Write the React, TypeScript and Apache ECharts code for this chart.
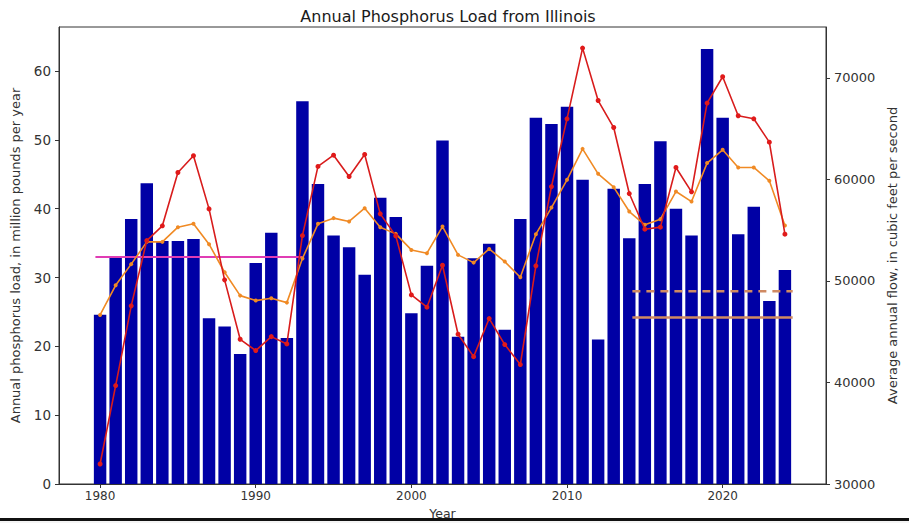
import React, { useEffect, useRef } from "react";
import * as echarts from "echarts";

const years = [
  1980, 1981, 1982, 1983, 1984, 1985, 1986, 1987, 1988, 1989,
  1990, 1991, 1992, 1993, 1994, 1995, 1996, 1997, 1998, 1999,
  2000, 2001, 2002, 2003, 2004, 2005, 2006, 2007, 2008, 2009,
  2010, 2011, 2012, 2013, 2014, 2015, 2016, 2017, 2018, 2019,
  2020, 2021, 2022, 2023, 2024,
];

// Annual phosphorus load, million pounds per year (left axis)
const loads = [
  24.6, 33.1, 38.5, 43.7, 35.3, 35.3, 35.6, 24.1, 22.9, 18.9,
  32.1, 36.5, 21.2, 55.6, 43.6, 36.1, 34.4, 30.4, 41.6, 38.8,
  24.8, 31.7, 49.9, 21.4, 32.8, 34.9, 22.4, 38.5, 53.2, 52.3,
  54.8, 44.2, 21.0, 42.9, 35.7, 43.6, 49.8, 40.0, 36.1, 63.2,
  53.2, 36.3, 40.3, 26.6, 31.1,
];

// Average annual flow, cfs (right axis) - red line
const flow = [
  31970, 39690, 47540, 53970, 55420, 60670, 62320, 57090, 50100, 44250,
  43140, 44510, 43790, 54460, 61270, 62380, 60280, 62450, 56600, 54430,
  48620, 47410, 51540, 44750, 42540, 46290, 43730, 41760, 51480, 59290,
  65960, 72920, 67760, 65100, 58600, 55090, 55290, 61170, 58770, 67510,
  70100, 66260, 65960, 63660, 54600,
];

// Smoothed flow (right axis) - orange line
const flowSmooth = [
  46650, 49570, 51650, 53840, 53840, 55290, 55620, 53610, 50850, 48550,
  48060, 48290, 47860, 52200, 55620, 56180, 55850, 57160, 55290, 54630,
  53050, 52730, 55350, 52560, 51800, 53150, 51900, 50360, 54600, 57220,
  59950, 63000, 60540, 59230, 56830, 55520, 56080, 58800, 57810, 61600,
  62910, 61170, 61170, 59850, 55450,
];

// Reference lines (left axis units)
const baselineLine = [[1979.7, 33.0], [1993.0, 33.0]];
const targetDashed = [[2014.2, 28.0], [2024.5, 28.0]];
const targetSolid = [[2014.2, 24.2], [2024.5, 24.2]];

const xTicks = [1980, 1990, 2000, 2010, 2020];
const leftTicks = [0, 10, 20, 30, 40, 50, 60];
const rightTicks = [30000, 40000, 50000, 60000, 70000];

const FONT = "DejaVu Sans";
const plain = (v: number) => String(v);

export default function App() {
  const ref = useRef<HTMLDivElement>(null);

  useEffect(() => {
    document.body.style.margin = "0";
    if (!ref.current) return;
    const chart = echarts.init(ref.current, null, { renderer: "svg" });

    const gridLeft = 59;
    const gridRight = 83;
    const xMin = 1977.36;
    const xMax = 2026.64;
    const plotW = 909 - gridLeft - gridRight;
    const barW = (plotW / (xMax - xMin)) * 0.8;

    chart.setOption({
      animation: false,
      backgroundColor: "#ffffff",
      title: {
        text: "Annual Phosphorus Load from Illinois",
        left: 443,
        textAlign: "center",
        top: 3,
        textStyle: { fontFamily: FONT, fontSize: 16, fontWeight: "normal", color: "#1a1a1a" },
      },
      grid: {
        left: gridLeft,
        right: gridRight,
        top: 27,
        bottom: 39,
        outerBoundsMode: "none",
        containLabel: false,
        show: true,
        borderColor: "#333",
        borderWidth: 1,
        backgroundColor: "transparent",
      },
      xAxis: {
        type: "value",
        min: xMin,
        max: xMax,
        name: "Year",
        nameLocation: "middle",
        nameGap: 22,
        nameTextStyle: { fontFamily: FONT, fontSize: 12.5, color: "#333" },
        axisLine: { show: true, onZero: false, lineStyle: { color: "#333" } },
        axisTick: { show: true, length: 4, customValues: xTicks, lineStyle: { color: "#333" } },
        axisLabel: {
          customValues: xTicks,
          formatter: plain,
          fontFamily: FONT,
          fontSize: 12,
          color: "#333",
          margin: 6,
        },
        splitLine: { show: false },
      },
      yAxis: [
        {
          type: "value",
          min: 0,
          max: 66.4,
          position: "left",
          name: "Annual phosphorus load, in million pounds per year",
          nameLocation: "middle",
          nameGap: 37,
          nameTextStyle: { fontFamily: FONT, fontSize: 13, color: "#333" },
          axisLine: { show: true, lineStyle: { color: "#333" } },
          axisTick: { show: true, length: 4, customValues: leftTicks, lineStyle: { color: "#333" } },
          axisLabel: {
            customValues: leftTicks,
            formatter: plain,
            fontFamily: FONT,
            fontSize: 13.5,
            color: "#333",
            margin: 8,
          },
          splitLine: { show: false },
        },
        {
          type: "value",
          min: 30000,
          max: 75000,
          position: "right",
          name: "Average annual flow, in cubic feet per second",
          nameLocation: "middle",
          nameGap: 59,
          nameRotate: 90,
          nameTextStyle: { fontFamily: FONT, fontSize: 13, color: "#333" },
          axisLine: { show: true, lineStyle: { color: "#333" } },
          axisTick: { show: true, length: 4, customValues: rightTicks, lineStyle: { color: "#333" } },
          axisLabel: {
            customValues: rightTicks,
            formatter: plain,
            fontFamily: FONT,
            fontSize: 13,
            color: "#333",
            margin: 8,
          },
          splitLine: { show: false },
        },
      ],
      series: [
        {
          type: "bar",
          name: "Load",
          yAxisIndex: 0,
          barWidth: barW,
          data: years.map((y, i) => [y, loads[i]]),
          itemStyle: { color: "#0000a5" },
          z: 1,
        },
        {
          type: "line",
          name: "Baseline",
          yAxisIndex: 0,
          data: baselineLine,
          symbol: "none",
          lineStyle: { color: "#e03cb4", width: 2 },
          z: 3,
        },
        {
          type: "line",
          name: "Target dashed",
          yAxisIndex: 0,
          data: targetDashed,
          symbol: "none",
          lineStyle: { color: "#d08a62", width: 2.5, type: [8, 6] },
          z: 3,
        },
        {
          type: "line",
          name: "Target solid",
          yAxisIndex: 0,
          data: targetSolid,
          symbol: "none",
          lineStyle: { color: "#d08a62", width: 2.5 },
          z: 3,
        },
        {
          type: "line",
          name: "Smoothed flow",
          yAxisIndex: 1,
          data: years.map((y, i) => [y, flowSmooth[i]]),
          symbol: "circle",
          symbolSize: 4,
          itemStyle: { color: "#f08a24" },
          lineStyle: { color: "#f08a24", width: 1.6 },
          z: 4,
        },
        {
          type: "line",
          name: "Flow",
          yAxisIndex: 1,
          data: years.map((y, i) => [y, flow[i]]),
          symbol: "circle",
          symbolSize: 5,
          itemStyle: { color: "#e01a1a" },
          lineStyle: { color: "#d81c1c", width: 1.6 },
          z: 5,
        },
      ],
      graphic: [
        { type: "rect", z: 100, shape: { x: 0, y: 518, width: 909, height: 3 }, style: { fill: "#111" } },
        { type: "rect", z: 100, shape: { x: 0, y: 521, width: 909, height: 2 }, style: { fill: "#f4f4f4" } },
      ],
    });

    return () => chart.dispose();
  }, []);

  return <div ref={ref} style={{ width: 909, height: 523 }} />;
}
